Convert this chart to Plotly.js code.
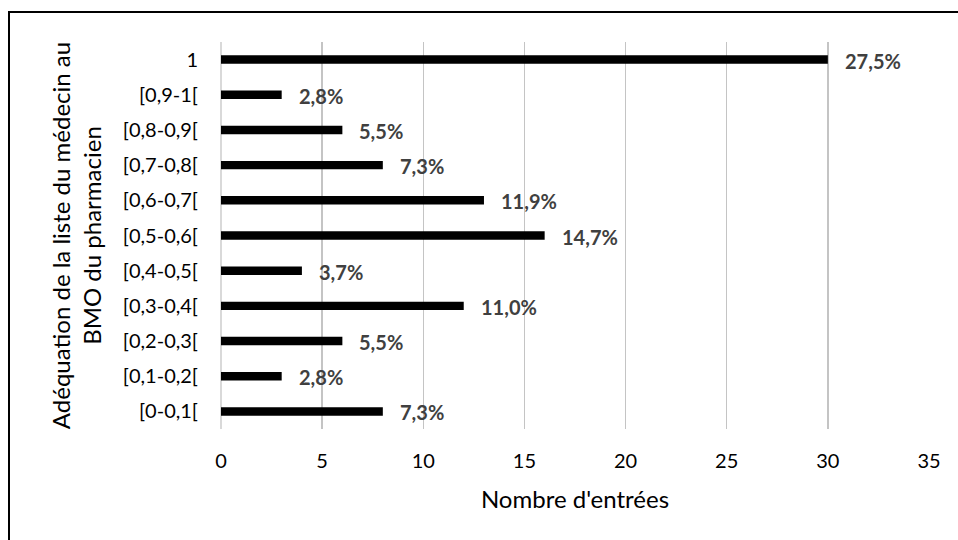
<!DOCTYPE html>
<html>
<head>
<meta charset="utf-8">
<script src="https://cdn.plot.ly/plotly-3.0.1.min.js"></script>
<style>
html,body{margin:0;padding:0;background:#fff;}
#wrap{position:relative;width:958px;height:540px;overflow:hidden;}
#chart{width:958px;height:540px;}
#frame{position:absolute;left:8px;top:11px;width:1000px;height:600px;border-left:2px solid #000;border-top:2px solid #000;pointer-events:none;}
</style>
</head>
<body>
<div id="wrap"><div id="chart"></div><div id="frame"></div></div>
<script>
const categories = ["[0-0,1[", "[0,1-0,2[", "[0,2-0,3[", "[0,3-0,4[", "[0,4-0,5[", "[0,5-0,6[", "[0,6-0,7[", "[0,7-0,8[", "[0,8-0,9[", "[0,9-1[", "1"];
const counts = [8, 3, 6, 12, 4, 16, 13, 8, 6, 3, 30];
const percentLabels = ["7,3%", "2,8%", "5,5%", "11,0%", "3,7%", "14,7%", "11,9%", "7,3%", "5,5%", "2,8%", "27,5%"];
const xTickValues = [0, 5, 10, 15, 20, 25, 30, 35];

const FONT = "Lato, 'Open Sans', sans-serif";

const trace = {
  type: "bar",
  orientation: "h",
  y: categories,
  x: counts,
  width: 0.24,
  marker: {color: "#000000", line: {width: 0}},
  hoverinfo: "none"
};

const annotations = categories.map((c, i) => ({
  x: counts[i], y: i, xref: "x", yref: "y",
  text: percentLabels[i], showarrow: false,
  xanchor: "left", yanchor: "middle", xshift: 15, yshift: -1,
  font: {family: FONT, size: 20, color: "#404040", weight: "bold"}
}));

const layout = {
  width: 958, height: 540,
  margin: {l: 221, r: 29, t: 42, b: 111},
  paper_bgcolor: "#ffffff", plot_bgcolor: "#ffffff",
  showlegend: false,
  font: {family: FONT, size: 20, color: "#000000"},
  xaxis: {
    range: [0, 35],
    tickvals: xTickValues,
    ticktext: xTickValues.map(String),
    showgrid: true, gridcolor: "#c4c4c4", gridwidth: 1.5,
    zeroline: true, zerolinecolor: "#d9d9d9", zerolinewidth: 1.5,
    showline: false, ticks: "",
    ticklabelstandoff: 18,
    tickfont: {family: FONT, size: 20, color: "#000"},
    title: {text: "Nombre d'entrées", standoff: 20, font: {family: FONT, size: 24, color: "#000"}},
    fixedrange: true
  },
  yaxis: {
    type: "category",
    categoryorder: "array", categoryarray: categories,
    showgrid: false, zeroline: false, showline: false, ticks: "",
    ticklabelstandoff: 22,
    tickfont: {family: FONT, size: 20, color: "#000"},
    title: {text: "Adéquation de la liste du médecin au<br>BMO du pharmacien", standoff: 14, font: {family: FONT, size: 24, color: "#000"}},
    fixedrange: true
  },
  annotations: annotations
};

Plotly.newPlot("chart", [trace], layout, {displayModeBar: false, staticPlot: true});
</script>
</body>
</html>
